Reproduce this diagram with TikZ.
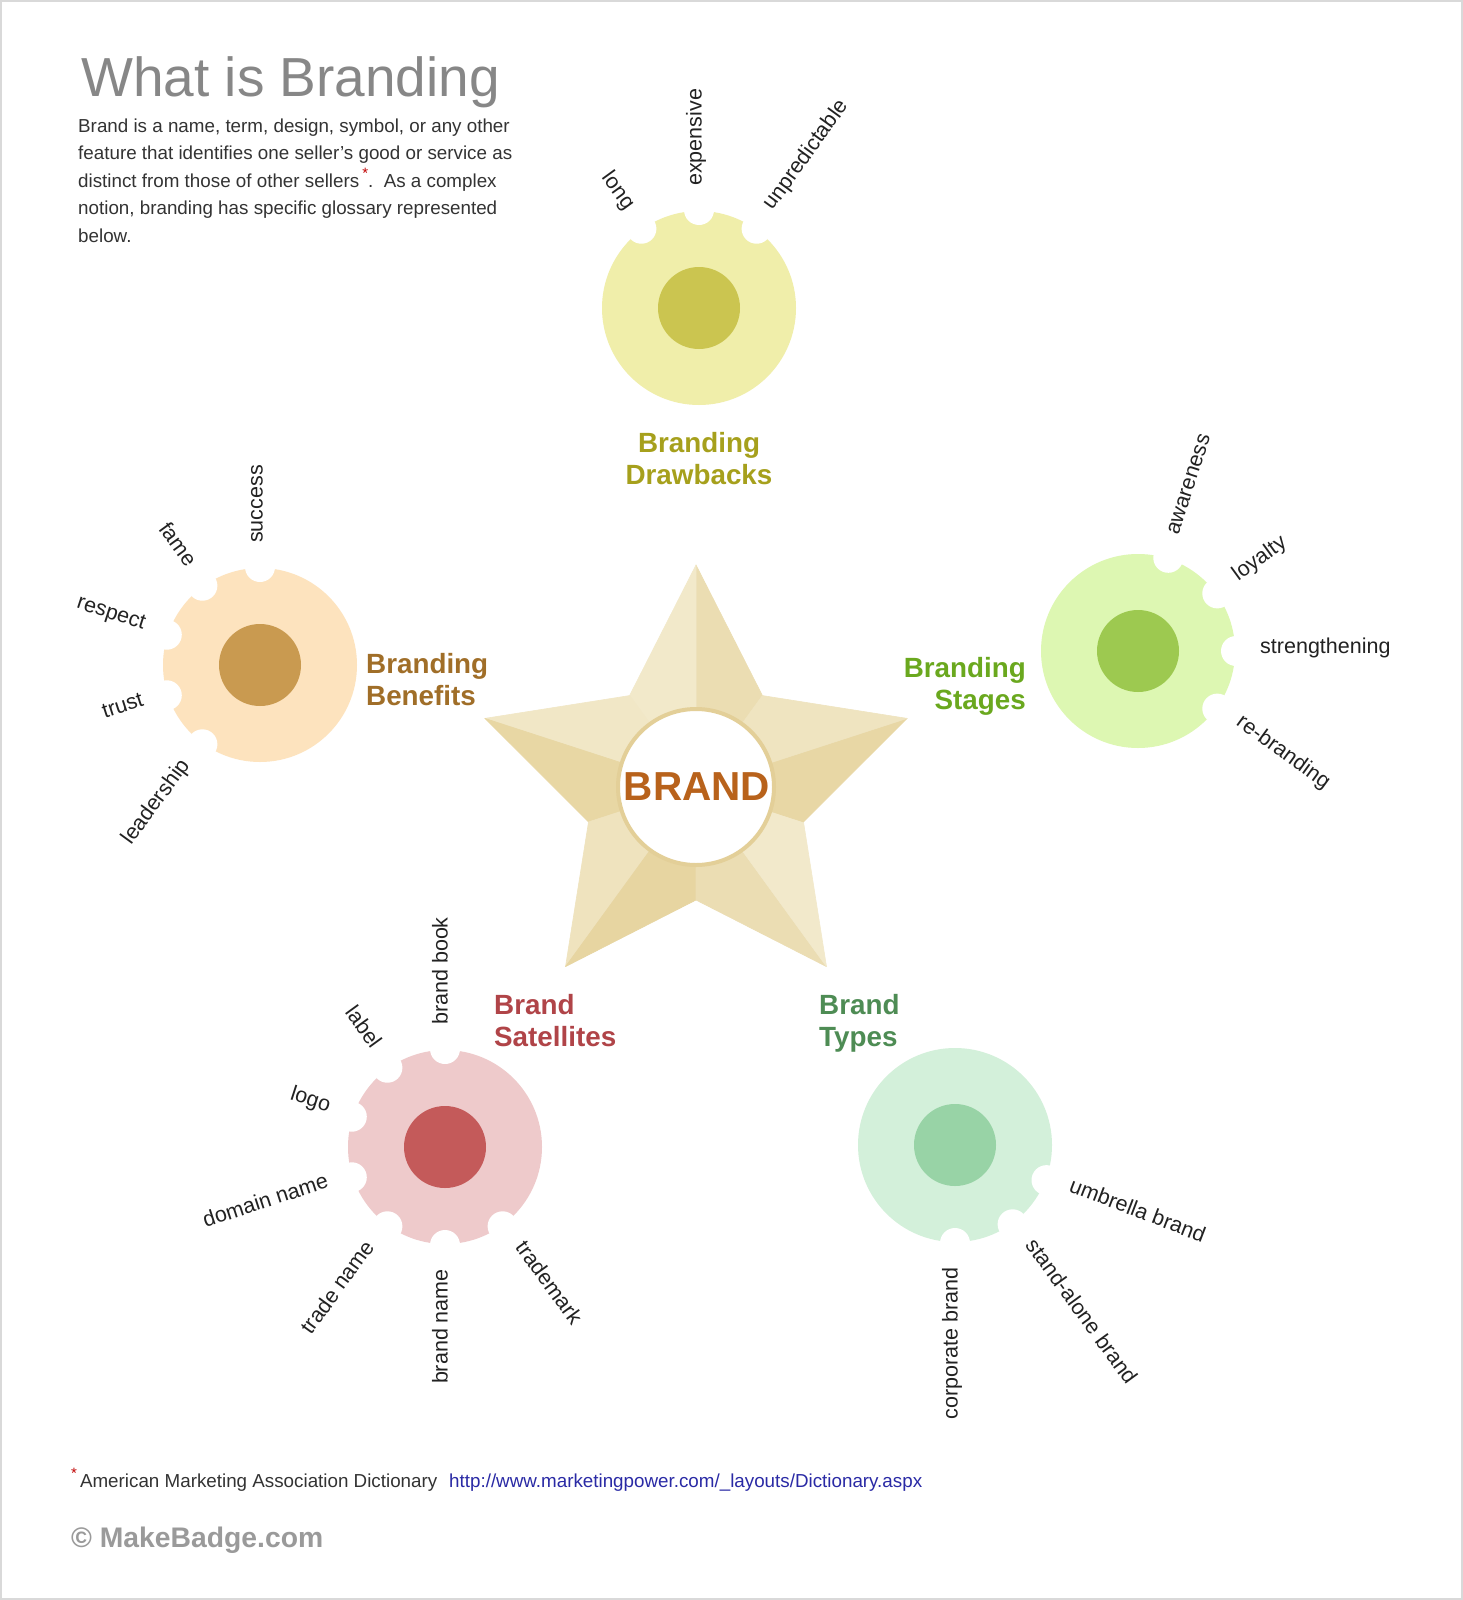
\documentclass[tikz,border=0pt]{standalone}
\usepackage{fontspec}
\setmainfont{Liberation Sans}
\usetikzlibrary{calc}
\definecolor{titlegray}{HTML}{878787}
\definecolor{bodytext}{HTML}{333333}
\definecolor{termtext}{HTML}{222222}
\definecolor{astred}{HTML}{C00000}
\definecolor{linkblue}{HTML}{2A2AA5}
\definecolor{copygray}{HTML}{9A9A9A}
\definecolor{framegray}{HTML}{D9D9D9}
\definecolor{brandtxt}{HTML}{B8621B}
\definecolor{ringcol}{HTML}{E3CF98}
\definecolor{sA}{HTML}{EBDDB2}\definecolor{sB}{HTML}{F2E9CA}
\definecolor{sC}{HTML}{F1E7C6}\definecolor{sD}{HTML}{E8D7A4}
\definecolor{sE}{HTML}{EFE3BE}\definecolor{sF}{HTML}{E7D5A1}
\definecolor{sG}{HTML}{EBDDB3}\definecolor{sH}{HTML}{F2E9CB}
\definecolor{sI}{HTML}{E8D7A5}\definecolor{sJ}{HTML}{EFE4C0}
\definecolor{dbOut}{HTML}{F0EEAA}\definecolor{dbIn}{HTML}{CBC550}\definecolor{dbTxt}{HTML}{A6A01C}
\definecolor{bnOut}{HTML}{FDE3BE}\definecolor{bnIn}{HTML}{C99A50}\definecolor{bnTxt}{HTML}{A06E28}
\definecolor{stOut}{HTML}{DDF7B2}\definecolor{stIn}{HTML}{9DC950}\definecolor{stTxt}{HTML}{6AA81E}
\definecolor{saOut}{HTML}{EECACB}\definecolor{saIn}{HTML}{C45A5A}\definecolor{saTxt}{HTML}{B04448}
\definecolor{tyOut}{HTML}{D3F0DA}\definecolor{tyIn}{HTML}{98D3A6}\definecolor{tyTxt}{HTML}{4E8C54}
\begin{document}
\begin{tikzpicture}[x=1pt,y=-1pt,
  bodyline/.style={anchor=base west, inner sep=0pt, text=bodytext, font=\fontsize{18.8}{22}\selectfont},
  grouptitle/.style={inner sep=0pt, font=\fontsize{27.8}{32}\selectfont\bfseries},
  term/.style={inner sep=0pt, text=termtext, font=\fontsize{21.5}{25}\selectfont},
  notchcut/.style={fill=white},
  starpart/.style={line width=0.6pt, line join=round},
]
\useasboundingbox (0,0) rectangle (1463,1600);
\fill[white] (0,0) rectangle (1463,1600);
\draw[framegray, line width=2pt] (1,1) rectangle (1462,1599);

% ---------- heading ----------
\node[anchor=base west, inner sep=0pt, text=titlegray, font=\fontsize{55}{60}\selectfont] (title) at (81,97) {What is Branding};
\node[bodyline] (body1) at (78,132) {Brand is a name, term, design, symbol, or any other};
\node[bodyline] (body2) at (78,159.5) {feature that identifies one seller's good or service as};
\node[bodyline] (body3) at (78,187) {distinct from those of other sellers\hspace{3pt}\textcolor{astred}{\raisebox{0.45em}{\fontsize{15}{15}\selectfont *}}.\ \ As a complex};
\node[bodyline] (body4) at (78,214.5) {notion, branding has specific glossary represented};
\node[bodyline] (body5) at (78,242) {below.};

% ---------- star ----------
\begin{scope}[shift={(696,787)}]
  \filldraw[starpart, fill=sA, draw=sA] (0,0) -- (-54:113) -- (-90:222) -- cycle;
  \filldraw[starpart, fill=sB, draw=sB] (0,0) -- (-90:222) -- (-126:113) -- cycle;
  \filldraw[starpart, fill=sC, draw=sC] (0,0) -- (-126:113) -- (-162:222) -- cycle;
  \filldraw[starpart, fill=sD, draw=sD] (0,0) -- (-162:222) -- (-198:113) -- cycle;
  \filldraw[starpart, fill=sE, draw=sE] (0,0) -- (-198:113) -- (-234:222) -- cycle;
  \filldraw[starpart, fill=sF, draw=sF] (0,0) -- (-234:222) -- (-270:113) -- cycle;
  \filldraw[starpart, fill=sG, draw=sG] (0,0) -- (-270:113) -- (-306:222) -- cycle;
  \filldraw[starpart, fill=sH, draw=sH] (0,0) -- (-306:222) -- (-342:113) -- cycle;
  \filldraw[starpart, fill=sI, draw=sI] (0,0) -- (-342:113) -- (-18:222) -- cycle;
  \filldraw[starpart, fill=sJ, draw=sJ] (0,0) -- (-18:222) -- (-54:113) -- cycle;
  \draw[ringcol, line width=4pt, fill=white] (0,0) circle[radius=78];
  \node[inner sep=0pt, text=brandtxt, font=\fontsize{40.5}{40}\selectfont\bfseries] (brand) at (1,0) {BRAND};
\end{scope}

% ---------- Branding Drawbacks ----------
\coordinate (gD) at (699,308);
\fill[dbOut] (gD) circle[radius=97];
\foreach \ang in {54,90,126} \fill[notchcut] ($(gD)+(-\ang:98)$) circle[radius=15];
\fill[dbIn] (gD) circle[radius=41];
\foreach \ang/\rot/\anc/\txt [count=\i] in {126/-54/mid east/long, 90/90/mid west/expensive, 54/54/mid west/unpredictable}
  \node[term, rotate=\rot, anchor=\anc] (gD-\i) at ($(gD)+(-\ang:122)$) {\txt};
\node[grouptitle, text=dbTxt, anchor=base] (dbT1) at (699,452) {Branding};
\node[grouptitle, text=dbTxt, anchor=base] (dbT2) at (699,484) {Drawbacks};

% ---------- Branding Benefits ----------
\coordinate (gB) at (260,665);
\fill[bnOut] (gB) circle[radius=97];
\foreach \ang in {90,126,162,198,234} \fill[notchcut] ($(gB)+(-\ang:98)$) circle[radius=15];
\fill[bnIn] (gB) circle[radius=41];
\foreach \ang/\rot/\anc/\txt [count=\i] in {90/90/mid west/success, 126/-54/mid east/fame, 162/-18/mid east/respect, 198/18/mid east/trust, 234/54/mid east/leadership}
  \node[term, rotate=\rot, anchor=\anc] (gB-\i) at ($(gB)+(-\ang:122)$) {\txt};
\node[grouptitle, text=bnTxt, anchor=base west] (bnT1) at (366,673) {Branding};
\node[grouptitle, text=bnTxt, anchor=base west] (bnT2) at (366,705) {Benefits};

% ---------- Branding Stages ----------
\coordinate (gS) at (1138,651);
\fill[stOut] (gS) circle[radius=97];
\foreach \ang in {72,36,0,-36} \fill[notchcut] ($(gS)+({-1*\ang}:98)$) circle[radius=15];
\fill[stIn] (gS) circle[radius=41];
\foreach \ang/\rot/\anc/\txt [count=\i] in {72/72/mid west/awareness, 36/36/mid west/loyalty, 0/0/mid west/strengthening, 324/-36/mid west/re-branding}
  \node[term, rotate=\rot, anchor=\anc] (gS-\i) at ($(gS)+(-\ang:122)$) {\txt};
\node[grouptitle, text=stTxt, anchor=base east] (stT1) at (1026,677) {Branding};
\node[grouptitle, text=stTxt, anchor=base east] (stT2) at (1026,709) {Stages};

% ---------- Brand Satellites ----------
\coordinate (gT) at (445,1147);
\fill[saOut] (gT) circle[radius=97];
\foreach \ang in {90,126,162,198,234,270,306} \fill[notchcut] ($(gT)+(-\ang:98)$) circle[radius=15];
\fill[saIn] (gT) circle[radius=41];
\foreach \ang/\rot/\anc/\txt [count=\i] in {90/90/mid west/brand book, 126/-54/mid east/label, 162/-18/mid east/logo, 198/18/mid east/domain name, 234/54/mid east/trade name, 270/90/mid east/brand name, 306/-54/mid west/trademark}
  \node[term, rotate=\rot, anchor=\anc] (gT-\i) at ($(gT)+(-\ang:122)$) {\txt};
\node[grouptitle, text=saTxt, anchor=base west] (saT1) at (494,1014) {Brand};
\node[grouptitle, text=saTxt, anchor=base west] (saT2) at (494,1046) {Satellites};

% ---------- Brand Types ----------
\coordinate (gY) at (955,1145);
\fill[tyOut] (gY) circle[radius=97];
\foreach \ang in {339,306,270} \fill[notchcut] ($(gY)+(-\ang:98)$) circle[radius=15];
\fill[tyIn] (gY) circle[radius=41];
\foreach \ang/\rot/\anc/\txt [count=\i] in {339/-21/mid west/umbrella brand, 306/-54/mid west/stand-alone brand, 270/90/mid east/corporate brand}
  \node[term, rotate=\rot, anchor=\anc] (gY-\i) at ($(gY)+(-\ang:122)$) {\txt};
\node[grouptitle, text=tyTxt, anchor=base west] (tyT1) at (819,1014) {Brand};
\node[grouptitle, text=tyTxt, anchor=base west] (tyT2) at (819,1046) {Types};

% ---------- footer ----------
\node[bodyline] (src) at (71,1487) {\textcolor{astred}{\raisebox{0.45em}{\fontsize{15}{15}\selectfont *}}\hspace{3pt}American Marketing Association Dictionary};
\node[bodyline, text=linkblue] (link) at (449,1487) {http://www.marketingpower.com/\_layouts/Dictionary.aspx};
\node[anchor=base west, inner sep=0pt, text=copygray, font=\fontsize{28.3}{30}\selectfont\bfseries] (copy) at (71,1547) {© MakeBadge.com};
\end{tikzpicture}
\end{document}
